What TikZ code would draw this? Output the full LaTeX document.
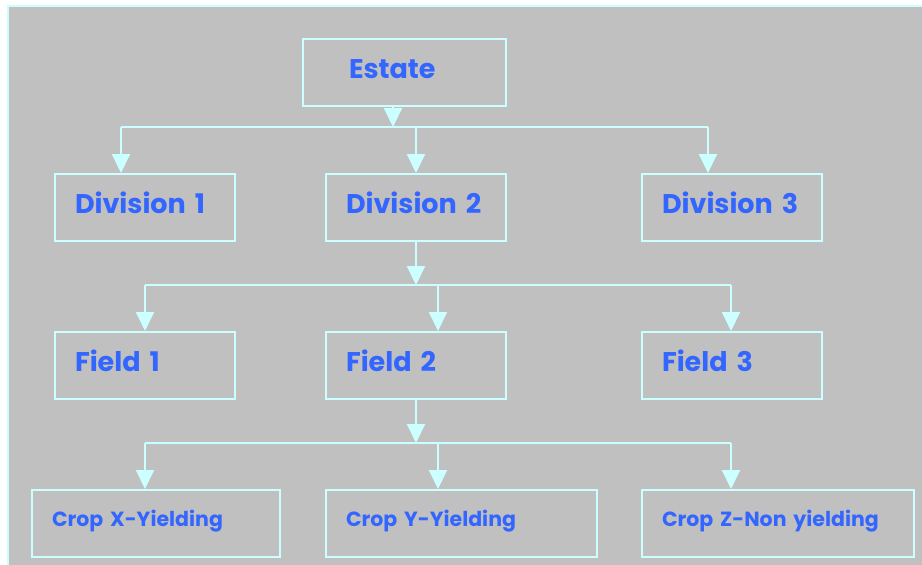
\documentclass[tikz,border=0pt]{standalone}
\usepackage{fontspec}
\setmainfont{Poppins}
\usetikzlibrary{arrows.meta}
\definecolor{bg}{HTML}{C0C0C0}
\definecolor{cy}{HTML}{CCFFFF}
\definecolor{tx}{HTML}{3366FF}
\begin{document}
\begin{tikzpicture}[x=1pt,y=-1pt,
  box/.style={draw=cy, line width=2pt, minimum height=67pt, inner ysep=0pt, inner xsep=20pt,
    anchor=north west, text=tx, align=left, text height=20pt, text depth=8pt,
    font=\bfseries\fontsize{27}{30}\selectfont},
  small/.style={font=\bfseries\fontsize{20.5}{24}\selectfont, text height=15pt, text depth=9.6pt},
  link/.style={draw=cy, line width=2pt},
  arr/.style={link, -{Triangle[width=18pt,length=19pt,fill=cy]}}]
\useasboundingbox (0,0) rectangle (922,565);
\fill[bg] (8,6) rectangle (922,565);
\draw[cy, line width=2pt] (8,565) -- (8,6) -- (922,6);
% boxes
\node[box, text width=111pt, inner xsep=46pt] (e) at (302,38) {Estate};
\node[box, text width=140pt] (d1) at (54,173) {Division 1};
\node[box, text width=140pt] (d2) at (325,173) {Division 2};
\node[box, text width=140pt] (d3) at (641,173) {Division 3};
\node[box, text width=140pt] (f1) at (54,331) {Field 1};
\node[box, text width=140pt] (f2) at (325,331) {Field 2};
\node[box, text width=140pt] (f3) at (641,331) {Field 3};
\node[box, small, text width=208pt] (c1) at (31,489) {Crop X-Yielding};
\node[box, small, text width=231pt] (c2) at (325,489) {Crop Y-Yielding};
\node[box, small, text width=232pt] (c3) at (641,489) {Crop Z-Non yielding};
% level 1
\coordinate (j1) at (393,127);
\coordinate (j1l) at (121,127);
\coordinate (j1r) at (708,127);
\draw[arr] (e.south -| j1) -- (j1);
\draw[link] (j1l) -- (j1r);
\draw[arr] (j1l) -- (d1.north -| j1l);
\draw[arr] (d2.north |- j1) -- (d2.north);
\draw[arr] (j1r) -- (d3.north -| j1r);
% level 2
\coordinate (j2) at (415,285);
\coordinate (j2l) at (145,285);
\coordinate (j2m) at (438,285);
\coordinate (j2r) at (731,285);
\draw[arr] (d2.south) -- (d2.south |- j2);
\draw[link] (j2l) -- (j2r);
\draw[arr] (j2l) -- (f1.north -| j2l);
\draw[arr] (j2m) -- (f2.north -| j2m);
\draw[arr] (j2r) -- (f3.north -| j2r);
% level 3
\coordinate (j3) at (415,443);
\coordinate (j3l) at (145,443);
\coordinate (j3m) at (438,443);
\coordinate (j3r) at (731,443);
\draw[arr] (f2.south) -- (f2.south |- j3);
\draw[link] (j3l) -- (j3r);
\draw[arr] (j3l) -- (c1.north -| j3l);
\draw[arr] (j3m) -- (c2.north -| j3m);
\draw[arr] (j3r) -- (c3.north -| j3r);
\end{tikzpicture}
\end{document}
